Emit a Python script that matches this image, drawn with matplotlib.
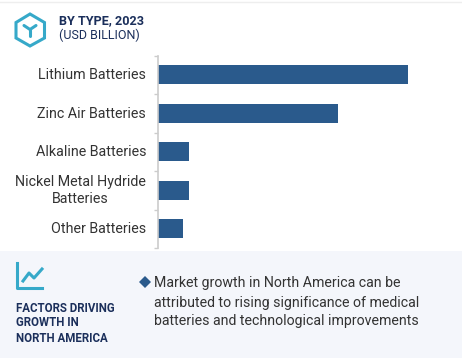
import matplotlib.pyplot as plt
from matplotlib.patches import Polygon, Rectangle
from matplotlib.transforms import ScaledTranslation

categories = ['Lithium Batteries', 'Zinc Air Batteries', 'Alkaline Batteries',
              'Nickel Metal Hydride\nBatteries', 'Other Batteries']
values = [250, 180, 31, 31, 25]

plt.rcParams['font.family'] = ['Roboto', 'DejaVu Sans']

W, H = 462, 358
NAVY = '#1b2f5b'
TEAL = '#36a9c9'
BLUE = '#2a5a8c'
GREY = '#333333'

fig = plt.figure(figsize=(W / 100, H / 100), dpi=100, facecolor='white')

# Full figure layer in pixel coordinates, for the header, footer and icons
bg = fig.add_axes([0, 0, 1, 1])
bg.set_xlim(0, W)
bg.set_ylim(H, 0)
bg.axis('off')
bg.add_patch(Rectangle((0, 251), W, H - 251, color='#f4f6fb', lw=0))
bg.plot([0, W], [1.5, 1.5], color='#eeeeee', lw=1)

# Box icon in the header
hexagon = [(30, 14), (44.5, 22.5), (44.5, 38), (30, 46), (16, 38), (16, 22.5)]
bg.add_patch(Polygon(hexagon, closed=True, fill=False, ec=TEAL, lw=2.2))
bg.plot([24, 30, 36], [25.5, 29.5, 25.5], color=TEAL, lw=2.2, solid_capstyle='round')
bg.plot([30, 30], [29.5, 36], color=TEAL, lw=2.2, solid_capstyle='round')

bg.text(59, 20.5, 'BY TYPE, 2023', fontsize=9.1, fontweight='bold', color=NAVY, va='center')
bg.text(59, 35.5, '(USD BILLION)', fontsize=9, color=NAVY, va='center')

# Trend icon in the footer
bg.plot([17, 17, 42], [263, 288, 288], color=TEAL, lw=2.2)
bg.plot([23, 29, 34, 42], [281, 273, 278, 269], color=TEAL, lw=2.2)

for y, line in zip([308, 323, 338], ['FACTORS DRIVING', 'GROWTH IN', 'NORTH AMERICA']):
    bg.text(16, y, line, fontsize=8.3, fontweight='bold', color=NAVY, va='center')

bg.plot([145], [282], marker='D', ms=6.5, color=BLUE, mew=0)
for y, line in zip([283, 302.5, 321.5], ['Market growth in North America can be',
                                         'attributed to rising significance of medical',
                                         'batteries and technological improvements']):
    bg.text(154, y, line, fontsize=10.15, color=GREY, va='center')

# Bar chart
ax = fig.add_axes([158 / W, 1 - 248 / H, (W - 158) / W, (248 - 55.5) / H])
ax.patch.set_alpha(0)
positions = list(range(len(categories)))
ax.barh(positions, values, height=0.49, color=BLUE)
ax.set_xlim(0, W - 158)
ax.set_ylim(len(categories) - 0.5, -0.5)
ax.set_yticks(positions)
ax.set_yticklabels(categories, fontsize=10.25, color=GREY, ha='center', linespacing=1.3)
ax.set_yticks([p - 0.5 for p in range(len(categories) + 1)], minor=True)
ax.tick_params(axis='y', which='major', length=0, pad=0)
ax.tick_params(axis='y', which='minor', length=3, color='#cccccc', width=1)
ax.set_xticks([])
for side in ['top', 'right', 'bottom']:
    ax.spines[side].set_visible(False)
ax.spines['left'].set_color('#cccccc')
ax.spines['left'].set_linewidth(1.2)

# Right-aligned single lines, centred wrapped label, as in the picture
for label, cat in zip(ax.get_yticklabels(), categories):
    if '\n' in cat:
        label.set_ha('center')
        label.set_x(-78 / (W - 158))
        lift = 3
    else:
        label.set_ha('right')
        label.set_x(-12 / (W - 158))
        lift = 1
    label.set_transform(label.get_transform() + ScaledTranslation(0, lift / 100, fig.dpi_scale_trans))

fig.savefig('out.png', dpi=100)
